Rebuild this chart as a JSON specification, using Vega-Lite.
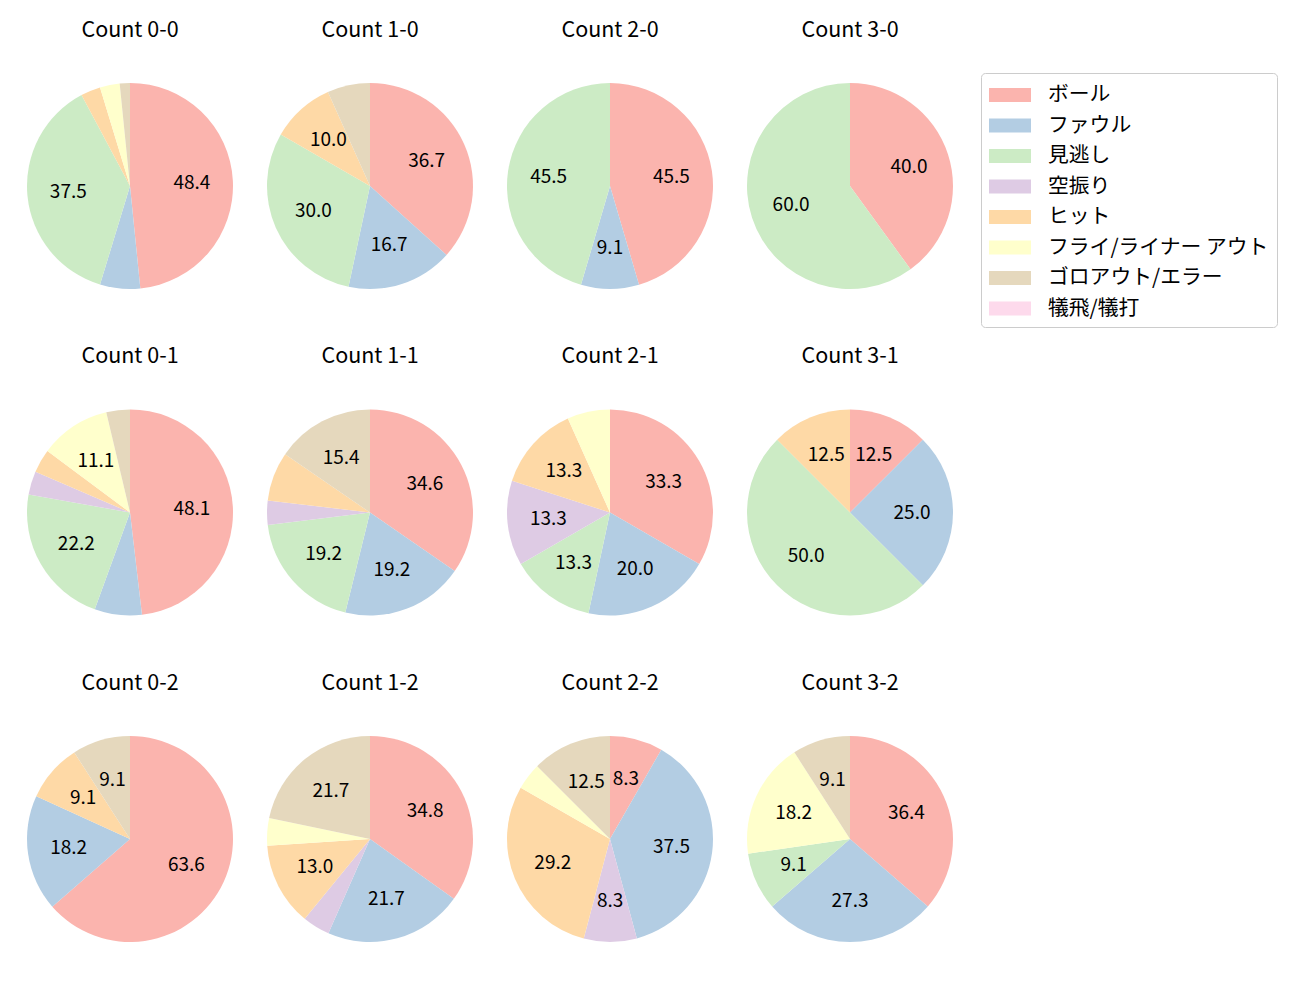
{
  "$schema": "https://vega.github.io/schema/vega-lite/v6.json",
  "padding": {"top": 19, "left": 25, "right": 5, "bottom": 5},
  "background": "white",
  "config": {
    "font": "Noto Sans CJK JP",
    "view": {"stroke": null},
    "header": {"labelFont": "Noto Sans CJK JP", "labelFontSize": 21.5, "labelColor": "black", "labelPadding": 40},
    "legend": {"labelFont": "Noto Sans CJK JP"}
  },
  "data": {"values": [
    {"c":"Count 0-0","t":"ボール","k":0,"p":48.4},
    {"c":"Count 0-0","t":"ファウル","k":1,"p":6.3},
    {"c":"Count 0-0","t":"見逃し","k":2,"p":37.5},
    {"c":"Count 0-0","t":"ヒット","k":4,"p":3.1},
    {"c":"Count 0-0","t":"フライ/ライナー アウト","k":5,"p":3.1},
    {"c":"Count 0-0","t":"ゴロアウト/エラー","k":6,"p":1.6},
    {"c":"Count 1-0","t":"ボール","k":0,"p":36.7},
    {"c":"Count 1-0","t":"ファウル","k":1,"p":16.7},
    {"c":"Count 1-0","t":"見逃し","k":2,"p":30.0},
    {"c":"Count 1-0","t":"ヒット","k":4,"p":10.0},
    {"c":"Count 1-0","t":"ゴロアウト/エラー","k":6,"p":6.7},
    {"c":"Count 2-0","t":"ボール","k":0,"p":45.5},
    {"c":"Count 2-0","t":"ファウル","k":1,"p":9.1},
    {"c":"Count 2-0","t":"見逃し","k":2,"p":45.5},
    {"c":"Count 3-0","t":"ボール","k":0,"p":40.0},
    {"c":"Count 3-0","t":"見逃し","k":2,"p":60.0},
    {"c":"Count 0-1","t":"ボール","k":0,"p":48.1},
    {"c":"Count 0-1","t":"ファウル","k":1,"p":7.4},
    {"c":"Count 0-1","t":"見逃し","k":2,"p":22.2},
    {"c":"Count 0-1","t":"空振り","k":3,"p":3.7},
    {"c":"Count 0-1","t":"ヒット","k":4,"p":3.7},
    {"c":"Count 0-1","t":"フライ/ライナー アウト","k":5,"p":11.1},
    {"c":"Count 0-1","t":"ゴロアウト/エラー","k":6,"p":3.7},
    {"c":"Count 1-1","t":"ボール","k":0,"p":34.6},
    {"c":"Count 1-1","t":"ファウル","k":1,"p":19.2},
    {"c":"Count 1-1","t":"見逃し","k":2,"p":19.2},
    {"c":"Count 1-1","t":"空振り","k":3,"p":3.8},
    {"c":"Count 1-1","t":"ヒット","k":4,"p":7.7},
    {"c":"Count 1-1","t":"ゴロアウト/エラー","k":6,"p":15.4},
    {"c":"Count 2-1","t":"ボール","k":0,"p":33.3},
    {"c":"Count 2-1","t":"ファウル","k":1,"p":20.0},
    {"c":"Count 2-1","t":"見逃し","k":2,"p":13.3},
    {"c":"Count 2-1","t":"空振り","k":3,"p":13.3},
    {"c":"Count 2-1","t":"ヒット","k":4,"p":13.3},
    {"c":"Count 2-1","t":"フライ/ライナー アウト","k":5,"p":6.7},
    {"c":"Count 3-1","t":"ボール","k":0,"p":12.5},
    {"c":"Count 3-1","t":"ファウル","k":1,"p":25.0},
    {"c":"Count 3-1","t":"見逃し","k":2,"p":50.0},
    {"c":"Count 3-1","t":"ヒット","k":4,"p":12.5},
    {"c":"Count 0-2","t":"ボール","k":0,"p":63.6},
    {"c":"Count 0-2","t":"ファウル","k":1,"p":18.2},
    {"c":"Count 0-2","t":"ヒット","k":4,"p":9.1},
    {"c":"Count 0-2","t":"ゴロアウト/エラー","k":6,"p":9.1},
    {"c":"Count 1-2","t":"ボール","k":0,"p":34.8},
    {"c":"Count 1-2","t":"ファウル","k":1,"p":21.7},
    {"c":"Count 1-2","t":"空振り","k":3,"p":4.3},
    {"c":"Count 1-2","t":"ヒット","k":4,"p":13.0},
    {"c":"Count 1-2","t":"フライ/ライナー アウト","k":5,"p":4.3},
    {"c":"Count 1-2","t":"ゴロアウト/エラー","k":6,"p":21.7},
    {"c":"Count 2-2","t":"ボール","k":0,"p":8.3},
    {"c":"Count 2-2","t":"ファウル","k":1,"p":37.5},
    {"c":"Count 2-2","t":"空振り","k":3,"p":8.3},
    {"c":"Count 2-2","t":"ヒット","k":4,"p":29.2},
    {"c":"Count 2-2","t":"フライ/ライナー アウト","k":5,"p":4.2},
    {"c":"Count 2-2","t":"ゴロアウト/エラー","k":6,"p":12.5},
    {"c":"Count 3-2","t":"ボール","k":0,"p":36.4},
    {"c":"Count 3-2","t":"ファウル","k":1,"p":27.3},
    {"c":"Count 3-2","t":"見逃し","k":2,"p":9.1},
    {"c":"Count 3-2","t":"フライ/ライナー アウト","k":5,"p":18.2},
    {"c":"Count 3-2","t":"ゴロアウト/エラー","k":6,"p":9.1}
  ]},
  "facet": {
    "field": "c",
    "type": "nominal",
    "sort": ["Count 0-0","Count 1-0","Count 2-0","Count 3-0","Count 0-1","Count 1-1","Count 2-1","Count 3-1","Count 0-2","Count 1-2","Count 2-2","Count 3-2"],
    "header": {"title": null}
  },
  "columns": 4,
  "spacing": {"column": 30, "row": 54.5},
  "spec": {
    "width": 210,
    "height": 210,
    "encoding": {
      "theta": {"field": "p", "type": "quantitative", "stack": true},
      "order": {"field": "k", "type": "quantitative", "sort": "ascending"}
    },
    "layer": [
      {
        "mark": {"type": "arc", "outerRadius": 103},
        "encoding": {
          "color": {
            "field": "t",
            "type": "nominal",
            "scale": {
              "domain": ["ボール","ファウル","見逃し","空振り","ヒット","フライ/ライナー アウト","ゴロアウト/エラー","犠飛/犠打"],
              "range": ["#fbb4ae","#b3cde3","#ccebc5","#decbe4","#fed9a6","#ffffcc","#e5d8bd","#fddaec"]
            },
            "legend": {
              "title": null,
              "orient": "none",
              "legendX": 956,
              "legendY": -8,
              "symbolType": "M-1,-0.5H2V0.5H-1Z",
              "symbolSize": 784,
              "symbolStrokeWidth": 0,
              "labelFontSize": 20.8,
              "labelOffset": 31,
              "labelLimit": 0,
              "rowPadding": 6.5,
              "padding": 8,
              "strokeColor": "#cccccc",
              "cornerRadius": 4,
              "fillColor": "white"
            }
          }
        }
      },
      {
        "mark": {"type": "text", "radius": 62, "fontSize": 19, "color": "black", "font": "Noto Sans CJK JP"},
        "encoding": {
          "text": {"condition": {"test": "datum.p >= 8", "field": "p", "type": "quantitative", "format": ".1f"}, "value": ""}
        }
      }
    ]
  }
}
